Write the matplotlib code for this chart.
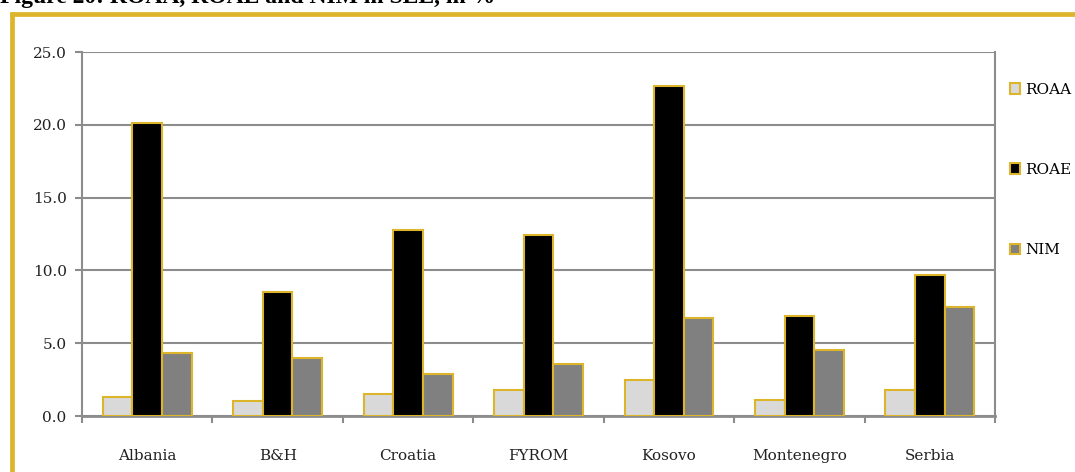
import matplotlib.pyplot as plt
import numpy as np
from matplotlib.lines import Line2D
from matplotlib.patches import Patch

plt.rcParams['font.family'] = ['DejaVu Serif']

countries = ['Albania', 'B&H', 'Croatia', 'FYROM', 'Kosovo', 'Montenegro', 'Serbia']
roaa = [1.3, 1.0, 1.5, 1.8, 2.5, 1.1, 1.8]
roae = [20.1, 8.5, 12.8, 12.4, 22.7, 6.9, 9.7]
nim = [4.3, 4.0, 2.9, 3.6, 6.7, 4.5, 7.5]

gold = '#DDB52A'
grid_c = '#8C8C8C'
txt_c = '#222222'

fig = plt.figure(figsize=(10.75, 4.72), dpi=100)
ax = fig.add_axes([0.0763, 0.1186, 0.8493, 0.7712])

x = np.arange(len(countries))
w = 0.227
series = [(roaa, '#D9D9D9', 'ROAA'), (roae, '#000000', 'ROAE'), (nim, '#808080', 'NIM')]
for i, (vals, col, lab) in enumerate(series):
    ax.bar(x + (i - 1) * w, vals, w, color=col, edgecolor=gold, linewidth=1.5,
           label=lab, zorder=3)

ax.set_xlim(-0.5, len(countries) - 0.5)
ax.set_ylim(0, 25)
ax.set_yticks(np.arange(0, 26, 5))
ax.set_yticklabels([f'{v:.1f}' for v in np.arange(0, 26, 5)], fontsize=11, color=txt_c)
ax.yaxis.grid(True, color=grid_c, linewidth=1.5, zorder=0)

# category labels sit between boundary ticks
ax.set_xticks(x)
ax.set_xticklabels(countries, fontsize=11, color=txt_c)
ax.tick_params(axis='x', length=0, pad=24)
ax.set_xticks(np.arange(-0.5, len(countries)), minor=True)
ax.tick_params(axis='x', which='minor', length=5, width=1.5, color=grid_c)
ax.tick_params(axis='y', length=5, width=1.5, color=grid_c, pad=6)

for s in ['left', 'right', 'bottom']:
    ax.spines[s].set_color(grid_c)
    ax.spines[s].set_linewidth(1.5)
ax.spines['bottom'].set_linewidth(2)
ax.spines['top'].set_visible(False)

handles = [Patch(facecolor=c, edgecolor=gold, linewidth=1.5, label=l) for _, c, l in series]
fig.legend(handles=handles, loc='upper left', bbox_to_anchor=(0.9335, 0.838),
           frameon=False, fontsize=11, labelspacing=4.35, handlelength=0.7,
           handleheight=0.7, handletextpad=0.3, borderaxespad=0)

fig.text(0.0, 1 - 3 / 472, 'Figure 20: ROAA, ROAE and NIM in SEE, in %',
         fontsize=17, fontweight='bold', va='baseline', ha='left',
         family='Liberation Serif')

# gold frame around the figure area
fig.add_artist(Line2D([11.5 / 1075, 11.5 / 1075], [0, 1 - 12 / 472], color=gold, linewidth=3.4,
                      solid_capstyle='butt'))
fig.add_artist(Line2D([9.5 / 1075, 1], [1 - 14.2 / 472, 1 - 14.2 / 472], color=gold, linewidth=3.4,
                      solid_capstyle='butt'))

fig.savefig('out.png', dpi=100)
